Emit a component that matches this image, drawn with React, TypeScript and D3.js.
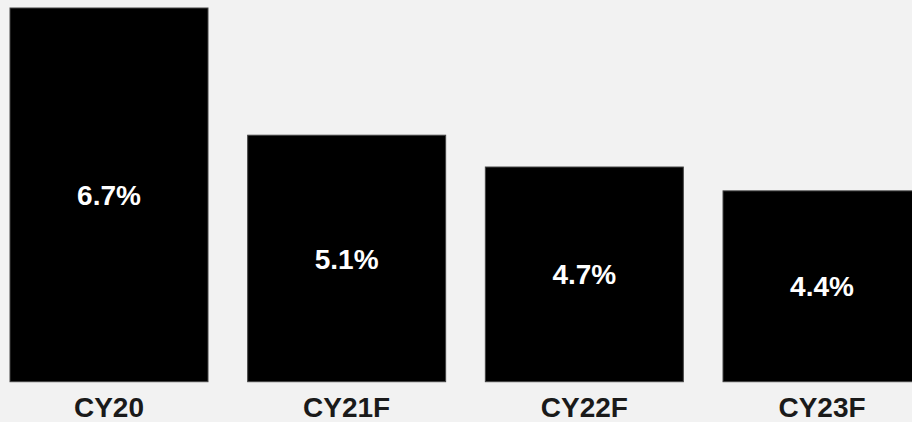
import React from "react";
import * as d3 from "d3";

// Datos del gráfico
const categories = ["CY20", "CY21F", "CY22F", "CY23F"];
const values = [6.7, 5.1, 4.7, 4.4];
const valueLabels = ["6.7%", "5.1%", "4.7%", "4.4%"];

const W = 912;
const H = 422;

export default function App() {
  const x = d3.scaleBand<string>().domain(categories).range([10, 921]).paddingInner(0.167).paddingOuter(0);
  const y = d3.scaleLinear().domain([2, 6.7]).range([381.7, 8]);
  const font = "'Liberation Sans', Arial, Helvetica, sans-serif";

  return (
    <div style={{ position: "absolute", left: 0, top: 0 }}>
      <svg width={W} height={H} style={{ display: "block" }}>
        <rect width={W} height={H} fill="#f2f2f2" />
        {values.map((v, i) => {
          const x0 = x(categories[i])!;
          const bw = x.bandwidth();
          const top = y(v);
          const bottom = y(2);
          return (
            <g key={i}>
              <rect x={x0} y={top} width={bw} height={bottom - top} fill="#000" stroke="#444" strokeWidth={1} />
              <text
                x={x0 + bw / 2}
                y={(top + bottom) / 2}
                dy="0.36em"
                textAnchor="middle"
                fill="#fff"
                fontFamily={font}
                fontWeight="bold"
                fontSize={28}
              >
                {valueLabels[i]}
              </text>
              <text
                x={x0 + bw / 2}
                y={417}
                textAnchor="middle"
                fill="#1a1a1a"
                fontFamily={font}
                fontWeight="bold"
                fontSize={28}
              >
                {categories[i]}
              </text>
            </g>
          );
        })}
      </svg>
    </div>
  );
}
